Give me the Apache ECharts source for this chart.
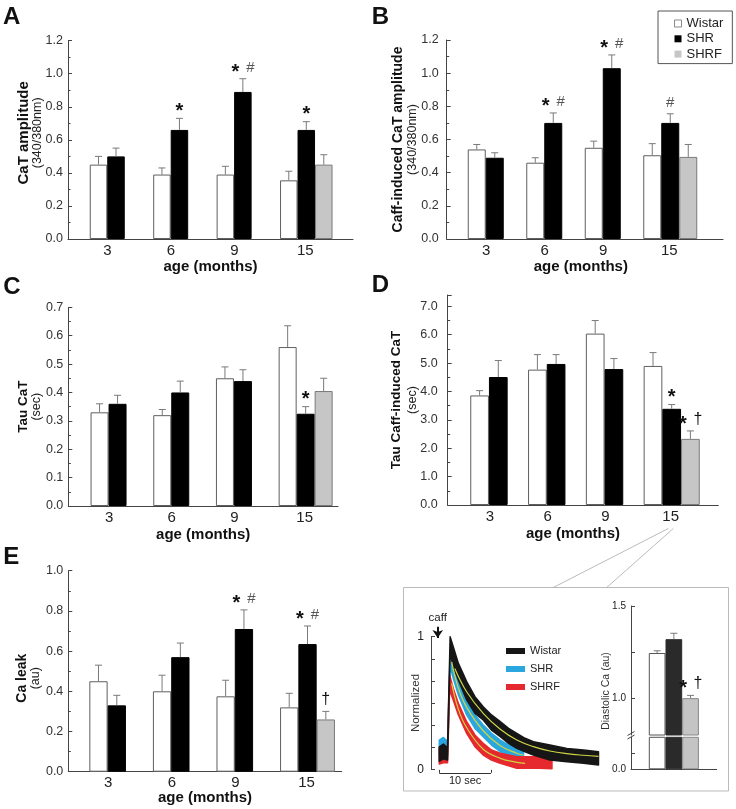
<!DOCTYPE html>
<html><head><meta charset="utf-8">
<script src="https://cdn.jsdelivr.net/npm/echarts@6/dist/echarts.min.js"></script>
<style>html,body{margin:0;padding:0;background:#fff}#c{width:736px;height:809px}</style>
</head><body><div id="c"></div>
<script>
// ---------------- DATA ----------------
const ages = ['3', '6', '9', '15'];
const groups = ['Wistar', 'SHR', 'SHRF'];

// A: CaT amplitude (340/380nm)
const caT_wistar = [0.45, 0.39, 0.39, 0.355];
const caT_wistarErr = [0.50, 0.43, 0.44, 0.41];
const caT_shr = [0.50, 0.66, 0.89, 0.66];
const caT_shrErr = [0.55, 0.73, 0.97, 0.71];
const caT_shrf = [null, null, null, 0.45];
const caT_shrfErr = [null, null, null, 0.51];
const caT_shrMarks = ['', '*', '* #', '*'];
const caT_shrfMarks = ['', '', '', ''];

// B: Caff-induced CaT amplitude
const caff_wistar = [0.54, 0.46, 0.55, 0.505];
const caff_wistarErr = [0.57, 0.49, 0.59, 0.575];
const caff_shr = [0.49, 0.70, 1.03, 0.70];
const caff_shrErr = [0.52, 0.76, 1.11, 0.755];
const caff_shrf = [null, null, null, 0.495];
const caff_shrfErr = [null, null, null, 0.57];
const caff_shrMarks = ['', '* #', '* #', '#'];
const caff_shrfMarks = ['', '', '', ''];

// C: Tau CaT (sec)
const tau_wistar = [0.33, 0.32, 0.45, 0.56];
const tau_wistarErr = [0.36, 0.34, 0.49, 0.635];
const tau_shr = [0.36, 0.40, 0.44, 0.325];
const tau_shrErr = [0.39, 0.44, 0.48, 0.35];
const tau_shrf = [null, null, null, 0.405];
const tau_shrfErr = [null, null, null, 0.45];
const tau_shrMarks = ['', '', '', '*'];
const tau_shrfMarks = ['', '', '', ''];

// D: Tau Caff-induced CaT (sec)
const tauCaff_wistar = [3.86, 4.77, 6.04, 4.90];
const tauCaff_wistarErr = [4.03, 5.30, 6.50, 5.37];
const tauCaff_shr = [4.51, 4.97, 4.79, 3.39];
const tauCaff_shrErr = [5.09, 5.30, 5.16, 3.54];
const tauCaff_shrf = [null, null, null, 2.33];
const tauCaff_shrfErr = [null, null, null, 2.61];
const tauCaff_shrMarks = ['', '', '', '*'];
const tauCaff_shrfMarks = ['', '', '', '* †'];

// E: Ca leak (au)
const leak_wistar = [0.45, 0.40, 0.375, 0.32];
const leak_wistarErr = [0.53, 0.48, 0.455, 0.39];
const leak_shr = [0.33, 0.57, 0.71, 0.635];
const leak_shrErr = [0.38, 0.64, 0.805, 0.725];
const leak_shrf = [null, null, null, 0.26];
const leak_shrfErr = [null, null, null, 0.30];
const leak_shrMarks = ['', '', '* #', '* #'];
const leak_shrfMarks = ['', '', '', '†'];

// Inset: diastolic Ca (au), 15 months
const diaCat = ['15'];
const dia_wistar = [1.245];
const dia_wistarErr = [1.257];
const dia_shr = [1.32];
const dia_shrErr = [1.352];
const dia_shrf = [1.0];
const dia_shrfErr = [1.015];
const dia_shrfMarks = ['* †'];

// Inset: caffeine transients (time s, normalized) - upper/lower envelopes of noisy traces
const wistarT  = [1.6, 2.4, 3.2, 3.7, 4.3, 5.3, 6.9, 8.5, 10.1, 11.7, 13.4, 15.0, 16.6, 18.2, 19.8, 23.0, 26.3, 29.5, 32.4];
const wistarHi = [0.17, 0.19, 0.16, 1.0, 0.925, 0.799, 0.661, 0.548, 0.472, 0.410, 0.359, 0.309, 0.271, 0.234, 0.209, 0.183, 0.158, 0.146, 0.133];
const wistarLo = [0.06, 0.08, 0.07, 0.874, 0.774, 0.673, 0.523, 0.422, 0.372, 0.296, 0.246, 0.196, 0.158, 0.133, 0.108, 0.070, 0.058, 0.045, 0.033];
const shrT  = [1.6, 2.4, 3.2, 3.7, 4.3, 5.3, 6.9, 8.5, 10.1, 11.7, 13.4, 15.0, 16.6, 17.9];
const shrHi = [0.22, 0.24, 0.21, 0.874, 0.786, 0.661, 0.523, 0.410, 0.334, 0.271, 0.221, 0.183, 0.158, 0.146];
const shrLo = [0.11, 0.12, 0.10, 0.774, 0.686, 0.560, 0.410, 0.309, 0.246, 0.183, 0.133, 0.108, 0.083, 0.070];
const shrfT  = [1.6, 2.4, 3.2, 3.6, 4.3, 5.3, 6.9, 8.5, 10.1, 11.7, 13.4, 16.6, 19.8, 23.4];
const shrfHi = [0.16, 0.15, 0.17, 0.711, 0.611, 0.497, 0.359, 0.259, 0.196, 0.146, 0.121, 0.095, 0.095, 0.095];
const shrfLo = [0.04, 0.05, 0.05, 0.598, 0.523, 0.410, 0.271, 0.171, 0.108, 0.070, 0.045, 0.008, 0.010, 0.005];
// exponential fits
const wistarFitT = [4.6, 6.9, 10.1, 13.4, 16.6, 19.8, 23.0, 26.3, 29.5, 32.4];
const wistarFit  = [0.761, 0.585, 0.422, 0.302, 0.221, 0.171, 0.138, 0.118, 0.106, 0.098];
const shrFitT = [4.0, 5.3, 6.9, 10.1, 13.4, 16.6, 17.9];
const shrFit  = [0.81, 0.611, 0.467, 0.291, 0.178, 0.121, 0.106];
const shrfFitT = [4.0, 5.3, 6.9, 10.1, 13.4, 16.6, 18.2];
const shrfFit  = [0.648, 0.452, 0.314, 0.151, 0.083, 0.053, 0.045];
const traceTicks = [0, 0.167, 0.333, 0.5, 0.667, 0.833, 1];
const traceLabels = [0, 1];
const scaleBarSec = [1.6, 11.6];
const scaleBarY = -0.026;
const caffT = 1.3;
const caffArrow = [1.075, 0.99];

// ---------------- STYLE / LAYOUT ----------------
const FONT = '"Liberation Sans", Arial, Helvetica, sans-serif';
const AX = '#444';
const barStyles = [
  {color: '#ffffff', borderColor: '#5f5f5f', borderWidth: 1},
  {color: '#000000', borderColor: '#000000', borderWidth: 1},
  {color: '#c6c6c6', borderColor: '#7a7a7a', borderWidth: 1}
];
const insetBarStyles = [
  {color: '#ffffff', borderColor: '#555', borderWidth: 1},
  {color: '#2a2a2a', borderColor: '#2a2a2a', borderWidth: 1},
  {color: '#c4c4c4', borderColor: '#888', borderWidth: 1}
];
const tokStyle = {
  '*': {font: 'bold 20px ' + FONT, fill: '#111', dy: -6.7},
  '#': {font: '15px ' + FONT, fill: '#555', dy: -11},
  '†': {font: '16px ' + FONT, fill: '#111', dy: -11.7}
};

const grids = [], xAxes = [], yAxes = [], series = [];
function addGrid(g) {
  grids.push(Object.assign({containLabel: false, outerBoundsMode: 'none'}, g));
  return grids.length - 1;
}

function errSeries(xi, yi, vals, errs, marks, slot, bw, name) {
  const data = [];
  vals.forEach((v, i) => { if (v != null) data.push([i, v, errs[i]]); });
  return {
    type: 'custom', name, xAxisIndex: xi, yAxisIndex: yi, z: 4, silent: true, data,
    renderItem(params, api) {
      const i = api.value(0);
      const b = api.coord([i, api.value(1)]);
      const e = api.coord([i, api.value(2)]);
      const x = b[0] + slot * bw;
      const st = {stroke: '#7a7a7a', lineWidth: 1};
      const ch = [
        {type: 'line', shape: {x1: x, y1: b[1], x2: x, y2: e[1]}, style: st},
        {type: 'line', shape: {x1: x - 3.5, y1: e[1], x2: x + 3.5, y2: e[1]}, style: st}
      ];
      const toks = ((marks && marks[i]) || '').split(' ').filter(Boolean);
      toks.forEach((t, k) => {
        const s = tokStyle[t];
        ch.push({type: 'text', x: x + (k - (toks.length - 1) / 2) * 15, y: e[1] + s.dy,
          style: {text: t, font: s.font, fill: s.fill, align: 'center', verticalAlign: 'middle'}});
      });
      return {type: 'group', children: ch};
    }
  };
}

function barPanel(L, D) {
  const h = L.bottom - L.top;
  const go = addGrid({left: L.axisX, top: L.top, width: L.axisR - L.axisX, height: h});
  const gi = addGrid({left: L.bandL, top: L.top, width: L.bandR - L.bandL, height: h});
  xAxes.push({gridIndex: go, type: 'value', min: 0, max: 1,
    axisLine: {show: true, onZero: false, lineStyle: {color: AX, width: 1}},
    axisTick: {show: false}, axisLabel: {show: false}, splitLine: {show: false},
    name: 'age (months)', nameLocation: 'middle', nameGap: L.xNameGap, nameMoveOverlap: false,
    nameTextStyle: {fontFamily: FONT, fontSize: 15, fontWeight: 'bold', color: '#111', padding: L.xNamePad || 0}});
  yAxes.push({gridIndex: go, type: 'value', min: 0, max: L.ymax, interval: L.yint,
    axisLine: {show: true, lineStyle: {color: AX, width: 1}},
    axisTick: {show: true, inside: true, length: 4, lineStyle: {color: AX}},
    minorTick: {show: true, splitNumber: 2, length: 2.5, lineStyle: {color: AX}},
    splitLine: {show: false}, minorSplitLine: {show: false},
    axisLabel: {margin: L.labelMargin, fontFamily: FONT, fontSize: 12.5, color: '#333',
      formatter: v => v.toFixed(1), showMaxLabel: L.hideMax ? false : null},
    name: '{a|' + L.title + '}\n{b|' + L.sub + '}', nameLocation: 'middle', nameRotate: 90,
    nameGap: L.nameGap, nameMoveOverlap: false,
    nameTextStyle: {padding: L.namePad || 0, rich: {
      a: {fontFamily: FONT, fontSize: L.titleSize, fontWeight: 'bold', color: '#111', lineHeight: L.La},
      b: {fontFamily: FONT, fontSize: 12.5, color: '#222', lineHeight: L.Lb}}}});
  xAxes.push({gridIndex: gi, type: 'category', data: ages,
    axisLine: {show: false}, axisTick: {show: false}, splitLine: {show: false},
    axisLabel: {margin: 4, fontFamily: FONT, fontSize: 15, color: '#222',
      formatter: v => (v.length === 1 ? '{s|' : '{w|') + v + '}',
      rich: {s: {fontFamily: FONT, fontSize: 15, color: '#222', padding: [0, 17, 0, 0]},
             w: {fontFamily: FONT, fontSize: 15, color: '#222', padding: [0, 2, 0, 0]}}}});
  yAxes.push({gridIndex: gi, type: 'value', min: 0, max: L.ymax, show: false});
  const xi = xAxes.length - 1, yi = yAxes.length - 1;
  D.vals.forEach((vals, k) => series.push({type: 'bar', name: groups[k], xAxisIndex: xi, yAxisIndex: yi,
    data: vals, barWidth: L.bw, barGap: '0%', itemStyle: barStyles[k], silent: true, emphasis: {disabled: true}}));
  D.vals.forEach((vals, k) => series.push(errSeries(xi, yi, vals, D.errs[k], D.marks[k], k - 1, L.bw, groups[k] + ' err')));
}

barPanel({axisX: 68, axisR: 353, top: 40.7, bottom: 239, bandL: 84.3, bandR: 338, bw: 17.5, ymax: 1.2, yint: 0.2,
  labelMargin: 5, title: 'CaT amplitude', sub: '(340/380nm)', titleSize: 15, La: 15, Lb: 12, nameGap: 24.5,
  namePad: [0, 0, 0, 14], xNameGap: 20.5},
  {vals: [caT_wistar, caT_shr, caT_shrf], errs: [caT_wistarErr, caT_shrErr, caT_shrfErr], marks: [null, caT_shrMarks, caT_shrfMarks]});
barPanel({axisX: 446.7, axisR: 723, top: 40, bottom: 239, bandL: 465.5, bandR: 699.5, bw: 18, ymax: 1.2, yint: 0.2,
  labelMargin: 8, title: 'Caff-induced CaT amplitude', sub: '(340/380nm)', titleSize: 14, La: 17, Lb: 13, nameGap: 27.2,
  xNameGap: 20.5, xNamePad: [0, 8, 0, 0]},
  {vals: [caff_wistar, caff_shr, caff_shrf], errs: [caff_wistarErr, caff_shrErr, caff_shrfErr], marks: [null, caff_shrMarks, caff_shrfMarks]});
barPanel({axisX: 68.3, axisR: 338, top: 307.3, bottom: 506, bandL: 86.2, bandR: 337, bw: 18, ymax: 0.7, yint: 0.1,
  labelMargin: 5, title: 'Tau CaT', sub: '(sec)', titleSize: 13.5, La: 16, Lb: 12, nameGap: 25.3, xNameGap: 21.5},
  {vals: [tau_wistar, tau_shr, tau_shrf], errs: [tau_wistarErr, tau_shrErr, tau_shrfErr], marks: [null, tau_shrMarks, tau_shrfMarks]});
barPanel({axisX: 447.7, axisR: 718.3, top: 295, bottom: 505, bandL: 469.4, bandR: 700.6, bw: 18.7, ymax: 7.4, yint: 1,
  hideMax: true, labelMargin: 10, title: 'Tau Caff-induced CaT', sub: '(sec)', titleSize: 13.5, La: 18, Lb: 14.6, nameGap: 27.4,
  xNameGap: 21, xNamePad: [0, 20, 0, 0]},
  {vals: [tauCaff_wistar, tauCaff_shr, tauCaff_shrf], errs: [tauCaff_wistarErr, tauCaff_shrErr, tauCaff_shrfErr], marks: [null, tauCaff_shrMarks, tauCaff_shrfMarks]});
barPanel({axisX: 68.3, axisR: 341.7, top: 570.7, bottom: 771.7, bandL: 85, bandR: 339.3, bw: 18.3, ymax: 1.0, yint: 0.2,
  labelMargin: 5, title: 'Ca leak', sub: '(au)', titleSize: 14, La: 16, Lb: 12.6, nameGap: 26,
  namePad: [0, 14, 0, 0], xNameGap: 19},
  {vals: [leak_wistar, leak_shr, leak_shrf], errs: [leak_wistarErr, leak_shrErr, leak_shrfErr], marks: [null, leak_shrMarks, leak_shrfMarks]});

// ---------- Inset: traces ----------
const gT = addGrid({left: 431, top: 616.8, width: 170.6, height: 165.8});
xAxes.push({gridIndex: gT, type: 'value', min: 0, max: 33, show: false});
yAxes.push({gridIndex: gT, type: 'value', min: -0.1, max: 1.15, show: false});
const txi = xAxes.length - 1, tyi = yAxes.length - 1;
const gT2 = addGrid({left: 431, top: 636.7, width: 170.6, height: 132.6});
xAxes.push({gridIndex: gT2, type: 'value', min: 0, max: 33, show: false});
yAxes.push({gridIndex: gT2, type: 'value', min: 0, max: 1,
  axisLine: {show: true, lineStyle: {color: AX}},
  axisTick: {show: true, inside: true, length: 4, customValues: traceTicks, lineStyle: {color: AX}},
  axisLabel: {customValues: traceLabels, formatter: v => String(Math.round(v)), margin: 7, fontFamily: FONT, fontSize: 12, color: '#222'},
  splitLine: {show: false},
  name: 'Normalized', nameLocation: 'middle', nameRotate: 90, nameGap: 9, nameMoveOverlap: false,
  nameTextStyle: {fontFamily: FONT, fontSize: 11.5, color: '#333'}});

function bandSeries(name, color, t, hi, lo, z) {
  return {type: 'custom', name, xAxisIndex: txi, yAxisIndex: tyi, z, silent: true, itemStyle: {color},
    data: [[t[0], hi[0]]],
    renderItem(params, api) {
      const pts = [];
      for (let k = 0; k < t.length; k++) pts.push(api.coord([t[k], hi[k]]));
      for (let k = t.length - 1; k >= 0; k--) pts.push(api.coord([t[k], lo[k]]));
      return {type: 'polygon', shape: {points: pts}, style: {fill: color, stroke: color, lineWidth: 1.5, lineJoin: 'round'}};
    }};
}
const zip = (a, b) => a.map((v, i) => [v, b[i]]);
series.push(bandSeries('SHR trace', '#2aa7df', shrT, shrHi, shrLo, 3));
series.push(bandSeries('SHRF trace', '#e5292e', shrfT, shrfHi, shrfLo, 4));
series.push(bandSeries('Wistar trace', '#161616', wistarT, wistarHi, wistarLo, 5));
const fitStyle = {color: '#cdd444', width: 1.2};
series.push({type: 'line', name: 'SHR fit', xAxisIndex: txi, yAxisIndex: tyi, data: zip(shrFitT, shrFit), showSymbol: false, symbol: 'none', smooth: 0.4, lineStyle: fitStyle, z: 8, silent: true});
series.push({type: 'line', name: 'SHRF fit', xAxisIndex: txi, yAxisIndex: tyi, data: zip(shrfFitT, shrfFit), showSymbol: false, symbol: 'none', smooth: 0.4, lineStyle: fitStyle, z: 8, silent: true});
series.push({type: 'line', name: 'Wistar fit', xAxisIndex: txi, yAxisIndex: tyi, data: zip(wistarFitT, wistarFit), showSymbol: false, symbol: 'none', smooth: 0.4, lineStyle: fitStyle, z: 9, silent: true,
  markLine: {silent: true, animation: false, symbol: ['none', 'none'], label: {show: false},
    lineStyle: {color: '#333', width: 1, type: 'solid'}, emphasis: {disabled: true},
    data: [
      [{coord: [scaleBarSec[0], scaleBarY], label: {show: true, formatter: '10 sec', position: 'insideMiddleBottom', distance: 3, fontFamily: FONT, fontSize: 11, color: '#222'}},
       {coord: [scaleBarSec[1], scaleBarY]}],
      [{coord: [scaleBarSec[0], scaleBarY]}, {coord: [scaleBarSec[0], scaleBarY + 0.022]}],
      [{coord: [scaleBarSec[1], scaleBarY]}, {coord: [scaleBarSec[1], scaleBarY + 0.022]}],
      [{coord: [caffT, caffArrow[0]], lineStyle: {color: '#111', width: 2, type: 'solid'},
        label: {show: true, formatter: 'caff', position: 'start', distance: 3, fontFamily: FONT, fontSize: 11.5, color: '#222'}},
       {coord: [caffT, caffArrow[1]], symbol: 'arrow', symbolSize: 8}]
    ]}});

// ---------- Inset: diastolic Ca (broken axis) ----------
const gU = addGrid({left: 631, top: 606, width: 85.7, height: 129});
xAxes.push({gridIndex: gU, type: 'category', data: diaCat, show: false});
yAxes.push({gridIndex: gU, type: 'value', min: 0.8, max: 1.5,
  axisLine: {show: true, lineStyle: {color: AX}},
  axisTick: {show: true, inside: true, length: 4, customValues: [1.0, 1.25, 1.5], lineStyle: {color: AX}},
  axisLabel: {customValues: [1.0, 1.5], formatter: v => v.toFixed(1), margin: 5, fontFamily: FONT, fontSize: 10, color: '#222'},
  splitLine: {show: false},
  name: 'Diastolic Ca (au)', nameLocation: 'middle', nameRotate: 90, nameGap: 19, nameMoveOverlap: false,
  nameTextStyle: {fontFamily: FONT, fontSize: 10.5, color: '#333', padding: [0, 41, 0, 0]}});
const uxi = xAxes.length - 1, uyi = yAxes.length - 1;
const gL = addGrid({left: 631, top: 737.3, width: 85.7, height: 32});
xAxes.push({gridIndex: gL, type: 'category', data: diaCat,
  axisLine: {show: true, lineStyle: {color: AX}}, axisTick: {show: false}, axisLabel: {show: false}});
yAxes.push({gridIndex: gL, type: 'value', min: 0, max: 0.2,
  axisLine: {show: true, lineStyle: {color: AX}},
  axisTick: {show: true, inside: true, length: 4, customValues: [0, 0.1], lineStyle: {color: AX}},
  axisLabel: {customValues: [0], formatter: v => v.toFixed(1), margin: 5, fontFamily: FONT, fontSize: 10, color: '#222'},
  splitLine: {show: false}});
const lxi = xAxes.length - 1, lyi = yAxes.length - 1;
const diaVals = [dia_wistar, dia_shr, dia_shrf];
const diaErrs = [dia_wistarErr, dia_shrErr, dia_shrfErr];
[[uxi, uyi], [lxi, lyi]].forEach(([xi, yi]) => {
  diaVals.forEach((vals, k) => series.push({type: 'bar', name: groups[k] + ' dia', xAxisIndex: xi, yAxisIndex: yi,
    data: vals, barWidth: 16.7, barGap: '0%', clip: true, itemStyle: insetBarStyles[k], silent: true}));
});
diaVals.forEach((vals, k) => series.push(errSeries(uxi, uyi, vals, diaErrs[k], k === 2 ? dia_shrfMarks : null, k - 1, 16.7, groups[k] + ' dia err')));

// ---------- decorations ----------
const letter = (t, x, y) => ({type: 'text', x, y, style: {text: t, font: 'bold 24px ' + FONT, fill: '#111', align: 'left', verticalAlign: 'top'}});
const graphic = [
  letter('A', 3, 5), letter('B', 371.7, 5.3), letter('C', 3.3, 275), letter('D', 371.7, 273.7), letter('E', 3.3, 545.3),
  {type: 'rect', shape: {x: 403.5, y: 587.5, width: 325, height: 203.5}, style: {fill: 'none', stroke: '#bbb', lineWidth: 1}, z: -1},
  {type: 'line', shape: {x1: 668.3, y1: 528.5, x2: 553.3, y2: 587.5}, style: {stroke: '#aaa', lineWidth: 0.8}},
  {type: 'line', shape: {x1: 673.3, y1: 528.5, x2: 606.7, y2: 587.5}, style: {stroke: '#aaa', lineWidth: 0.8}},
  {type: 'line', shape: {x1: 627.5, y1: 735.5, x2: 634.5, y2: 731.5}, style: {stroke: '#444', lineWidth: 1}},
  {type: 'line', shape: {x1: 627.5, y1: 739, x2: 634.5, y2: 735}, style: {stroke: '#444', lineWidth: 1}}
];

const option = {
  animation: false,
  backgroundColor: '#ffffff',
  textStyle: {fontFamily: FONT},
  grid: grids, xAxis: xAxes, yAxis: yAxes, series,
  legend: [
    {orient: 'vertical', left: 658, top: 11, padding: [6, 9, 3, 16], itemWidth: 7, itemHeight: 7, itemGap: 2.3,
     icon: 'rect', borderColor: '#555', borderWidth: 1, selectedMode: false,
     textStyle: {fontFamily: FONT, fontSize: 13, color: '#222'},
     data: [{name: 'Wistar', itemStyle: {color: '#fff', borderColor: '#888', borderWidth: 1}},
            {name: 'SHR', itemStyle: {color: '#000', borderColor: '#000', borderWidth: 0}},
            {name: 'SHRF', itemStyle: {color: '#c6c6c6', borderColor: '#c6c6c6', borderWidth: 0}}]},
    {orient: 'vertical', left: 506, top: 645.5, padding: 0, itemWidth: 19, itemHeight: 6, itemGap: 7,
     icon: 'rect', selectedMode: false, textStyle: {fontFamily: FONT, fontSize: 11, color: '#222'},
     data: ['Wistar trace', 'SHR trace', 'SHRF trace'], formatter: n => n.replace(' trace', '')}
  ],
  graphic
};
const chart = echarts.init(document.getElementById('c'), null, {renderer: 'canvas'});
chart.setOption(option);
</script></body></html>
